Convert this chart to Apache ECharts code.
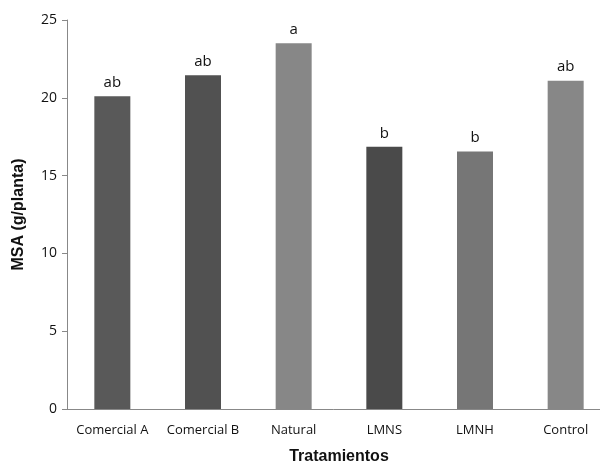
<!DOCTYPE html>
<html lang="es">
<head>
    <meta charset="UTF-8">
    <title>MSA por tratamiento</title>
    <script src="https://cdn.jsdelivr.net/npm/echarts@6/dist/echarts.min.js"></script>
</head>
<body style="margin:0">
    <div id="chart" style="width:600px; height:462px;"></div>
    <script>
        // datos
        var tratamientos = ['Comercial A', 'Comercial B', 'Natural', 'LMNS', 'LMNH', 'Control'];
        var msa = [20.1, 21.45, 23.5, 16.85, 16.55, 21.1];
        var letras = ['ab', 'ab', 'a', 'b', 'b', 'ab'];
        var colores = ['#595959', '#515151', '#878787', '#4a4a4a', '#767676', '#878787'];

        var chart = echarts.init(document.getElementById('chart'));

        chart.setOption({
            animation: false,
            grid: {
                left: 67,
                top: 20,
                width: 544,
                height: 389,
                outerBoundsMode: 'none',
                containLabel: false
            },
            xAxis: {
                type: 'category',
                data: tratamientos,
                name: 'Tratamientos',
                nameLocation: 'middle',
                nameGap: 40,
                nameTextStyle: {
                    fontFamily: 'Liberation Sans',
                    fontWeight: 'bold',
                    fontSize: 16,
                    color: '#111'
                },
                axisLine: { lineStyle: { color: '#888' } },
                axisTick: { show: false },
                axisLabel: {
                    interval: 0,
                    fontFamily: 'Open Sans',
                    fontSize: 13,
                    color: '#111',
                    margin: 15
                }
            },
            yAxis: {
                type: 'value',
                min: 0,
                max: 25,
                interval: 5,
                name: 'MSA (g/planta)',
                nameLocation: 'middle',
                nameGap: 40,
                nameTextStyle: {
                    fontFamily: 'Liberation Sans',
                    fontWeight: 'bold',
                    fontSize: 16,
                    color: '#111'
                },
                splitLine: { show: false },
                axisLine: { show: true, lineStyle: { color: '#888' } },
                axisTick: { show: true, length: 5, lineStyle: { color: '#888' } },
                axisLabel: {
                    fontFamily: 'Open Sans',
                    fontSize: 14,
                    color: '#111',
                    margin: 10
                }
            },
            series: [{
                type: 'bar',
                barWidth: 36,
                data: msa.map(function (v, i) {
                    return {
                        value: v,
                        itemStyle: { color: colores[i] },
                        label: { formatter: letras[i] }
                    };
                }),
                label: {
                    show: true,
                    position: 'top',
                    distance: 6,
                    fontFamily: 'Open Sans',
                    fontSize: 15,
                    color: '#111'
                }
            }]
        });
    </script>
</body>
</html>
